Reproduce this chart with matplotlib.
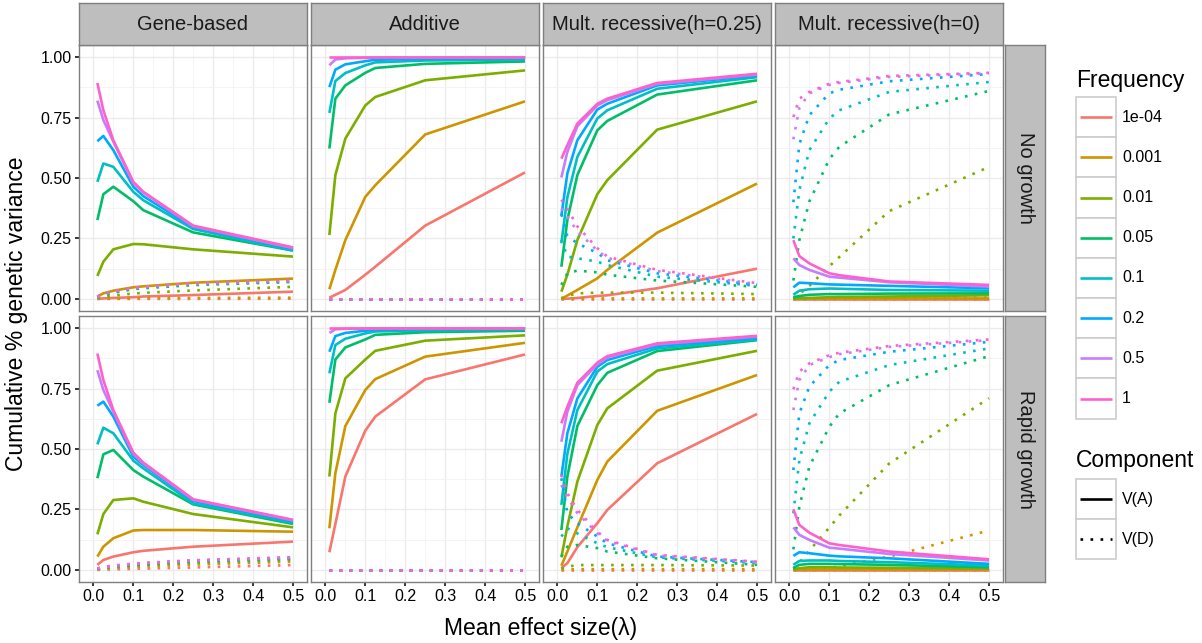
import matplotlib
matplotlib.use('Agg')
import matplotlib.pyplot as plt
from matplotlib.patches import Rectangle

plt.rcParams['font.family'] = ['Liberation Sans', 'DejaVu Sans']

# ---------------- data ----------------
X = [0.01, 0.025, 0.05, 0.1, 0.125, 0.25, 0.5]
FREQ_LABELS = ['1e-04', '0.001', '0.01', '0.05', '0.1', '0.2', '0.5', '1']
COLORS = ['#F8766D', '#CD9600', '#7CAE00', '#00BE67', '#00BFC4', '#00A9FF', '#C77CFF', '#FF61CC']
MODELS = ['Gene-based', 'Additive', 'Mult. recessive(h=0.25)', 'Mult. recessive(h=0)']
GROWTH = ['No growth', 'Rapid growth']
COMPONENTS = ['V(A)', 'V(D)']

# rows: frequencies 1e-04 ... 1 ; columns: X
GENE_NO_VA = [
    [0.0, 0.002, 0.004, 0.007, 0.010, 0.016, 0.030],
    [0.010, 0.023, 0.034, 0.048, 0.052, 0.067, 0.084],
    [0.095, 0.154, 0.205, 0.227, 0.226, 0.205, 0.175],
    [0.326, 0.433, 0.464, 0.404, 0.367, 0.275, 0.200],
    [0.484, 0.560, 0.546, 0.443, 0.408, 0.289, 0.200],
    [0.652, 0.674, 0.615, 0.464, 0.425, 0.296, 0.206],
    [0.820, 0.740, 0.650, 0.480, 0.440, 0.300, 0.210],
    [0.893, 0.780, 0.656, 0.484, 0.443, 0.303, 0.213],
]
GENE_NO_VD = [
    [0.0, 0.0, 0.0, 0.0, 0.0, 0.0, 0.001],
    [0.001, 0.002, 0.002, 0.003, 0.003, 0.004, 0.005],
    [0.003, 0.008, 0.014, 0.022, 0.025, 0.035, 0.050],
    [0.006, 0.016, 0.026, 0.040, 0.044, 0.057, 0.070],
    [0.007, 0.018, 0.028, 0.042, 0.047, 0.060, 0.072],
    [0.008, 0.019, 0.030, 0.044, 0.049, 0.062, 0.074],
    [0.008, 0.020, 0.031, 0.045, 0.050, 0.063, 0.075],
    [0.009, 0.020, 0.032, 0.046, 0.051, 0.064, 0.076],
]
ADD_NO_VA = [
    [0.005, 0.017, 0.037, 0.100, 0.133, 0.303, 0.523],
    [0.040, 0.120, 0.243, 0.422, 0.470, 0.680, 0.817],
    [0.264, 0.512, 0.663, 0.800, 0.835, 0.904, 0.945],
    [0.622, 0.828, 0.883, 0.935, 0.955, 0.972, 0.982],
    [0.769, 0.901, 0.934, 0.966, 0.978, 0.986, 0.989],
    [0.876, 0.948, 0.970, 0.983, 0.989, 0.993, 0.996],
    [0.966, 0.990, 0.995, 0.997, 0.998, 0.998, 0.999],
    [1.0, 1.0, 1.0, 1.0, 1.0, 1.0, 1.0],
]
ADD_NO_VD = [[0.0] * 7 for _ in range(8)]
H25_NO_VA = [
    [0.0, 0.001, 0.004, 0.012, 0.015, 0.044, 0.125],
    [0.0, 0.014, 0.037, 0.085, 0.120, 0.274, 0.477],
    [0.030, 0.100, 0.243, 0.433, 0.491, 0.700, 0.817],
    [0.133, 0.326, 0.512, 0.697, 0.736, 0.845, 0.904],
    [0.230, 0.420, 0.587, 0.746, 0.780, 0.869, 0.917],
    [0.344, 0.519, 0.656, 0.783, 0.807, 0.883, 0.924],
    [0.502, 0.608, 0.714, 0.800, 0.822, 0.889, 0.928],
    [0.580, 0.636, 0.725, 0.807, 0.828, 0.893, 0.931],
]
H25_NO_VD = [
    [0.0, 0.0, 0.0, 0.0, 0.0, 0.0, 0.0],
    [0.001, 0.002, 0.002, 0.002, 0.002, 0.002, 0.002],
    [0.003, 0.012, 0.023, 0.026, 0.026, 0.026, 0.020],
    [0.058, 0.106, 0.117, 0.110, 0.100, 0.076, 0.050],
    [0.245, 0.175, 0.168, 0.154, 0.140, 0.092, 0.054],
    [0.350, 0.260, 0.230, 0.190, 0.160, 0.106, 0.058],
    [0.374, 0.340, 0.280, 0.200, 0.170, 0.115, 0.062],
    [0.410, 0.374, 0.300, 0.210, 0.175, 0.120, 0.065],
]
H0_NO_VA = [
    [0.0, 0.0, 0.0, 0.0, 0.0, 0.0, 0.0],
    [0.001, 0.001, 0.002, 0.002, 0.002, 0.002, 0.002],
    [0.0, 0.003, 0.004, 0.007, 0.008, 0.010, 0.015],
    [0.007, 0.012, 0.017, 0.020, 0.020, 0.022, 0.023],
    [0.017, 0.034, 0.040, 0.043, 0.042, 0.037, 0.034],
    [0.048, 0.067, 0.065, 0.060, 0.059, 0.054, 0.044],
    [0.168, 0.140, 0.120, 0.092, 0.088, 0.069, 0.051],
    [0.243, 0.177, 0.147, 0.106, 0.098, 0.072, 0.058],
]
H0_NO_VD = [
    [0.0, 0.0, 0.0, 0.0, 0.0, 0.0, 0.0],
    [0.0, 0.0, 0.001, 0.002, 0.002, 0.003, 0.005],
    [0.003, 0.020, 0.054, 0.135, 0.173, 0.363, 0.546],
    [0.076, 0.243, 0.403, 0.578, 0.629, 0.763, 0.860],
    [0.250, 0.450, 0.615, 0.746, 0.780, 0.856, 0.897],
    [0.400, 0.640, 0.760, 0.850, 0.865, 0.900, 0.930],
    [0.660, 0.790, 0.850, 0.885, 0.893, 0.918, 0.933],
    [0.752, 0.828, 0.856, 0.890, 0.897, 0.922, 0.935],
]
GENE_RAPID_VA = [
    [0.021, 0.041, 0.055, 0.073, 0.079, 0.096, 0.117],
    [0.055, 0.096, 0.131, 0.163, 0.165, 0.165, 0.158],
    [0.147, 0.231, 0.289, 0.296, 0.282, 0.231, 0.176],
    [0.379, 0.478, 0.496, 0.413, 0.386, 0.271, 0.190],
    [0.519, 0.588, 0.565, 0.452, 0.420, 0.275, 0.196],
    [0.679, 0.696, 0.634, 0.468, 0.434, 0.285, 0.200],
    [0.826, 0.744, 0.654, 0.480, 0.440, 0.290, 0.205],
    [0.895, 0.785, 0.661, 0.485, 0.444, 0.292, 0.207],
]
GENE_RAPID_VD = [
    [0.0, 0.001, 0.002, 0.004, 0.005, 0.010, 0.020],
    [0.002, 0.005, 0.008, 0.012, 0.014, 0.022, 0.034],
    [0.003, 0.007, 0.011, 0.017, 0.020, 0.030, 0.042],
    [0.004, 0.009, 0.014, 0.021, 0.024, 0.035, 0.046],
    [0.005, 0.010, 0.015, 0.023, 0.026, 0.037, 0.048],
    [0.005, 0.011, 0.016, 0.024, 0.027, 0.038, 0.050],
    [0.006, 0.011, 0.017, 0.025, 0.028, 0.039, 0.051],
    [0.006, 0.012, 0.018, 0.026, 0.029, 0.040, 0.053],
]
ADD_RAPID_VA = [
    [0.073, 0.190, 0.386, 0.576, 0.634, 0.788, 0.891],
    [0.172, 0.400, 0.595, 0.744, 0.789, 0.882, 0.939],
    [0.386, 0.647, 0.792, 0.870, 0.906, 0.948, 0.970],
    [0.691, 0.870, 0.920, 0.953, 0.972, 0.983, 0.989],
    [0.813, 0.930, 0.956, 0.978, 0.986, 0.990, 0.994],
    [0.902, 0.967, 0.980, 0.989, 0.993, 0.996, 0.997],
    [0.980, 0.995, 0.997, 0.998, 0.999, 0.999, 0.999],
    [1.0, 1.0, 1.0, 1.0, 1.0, 1.0, 1.0],
]
ADD_RAPID_VD = [[0.0] * 7 for _ in range(8)]
H25_RAPID_VA = [
    [0.007, 0.028, 0.094, 0.193, 0.248, 0.441, 0.645],
    [0.017, 0.076, 0.176, 0.372, 0.448, 0.658, 0.806],
    [0.052, 0.180, 0.365, 0.599, 0.668, 0.824, 0.906],
    [0.165, 0.386, 0.595, 0.764, 0.815, 0.905, 0.950],
    [0.269, 0.480, 0.661, 0.820, 0.851, 0.916, 0.953],
    [0.386, 0.565, 0.709, 0.840, 0.868, 0.926, 0.959],
    [0.530, 0.654, 0.764, 0.850, 0.878, 0.933, 0.965],
    [0.606, 0.675, 0.774, 0.857, 0.884, 0.937, 0.968],
]
H25_RAPID_VD = [
    [0.0, 0.0, 0.0, 0.0, 0.0, 0.0, 0.0],
    [0.001, 0.002, 0.003, 0.003, 0.003, 0.003, 0.003],
    [0.005, 0.014, 0.020, 0.020, 0.020, 0.020, 0.018],
    [0.055, 0.096, 0.103, 0.090, 0.076, 0.048, 0.021],
    [0.138, 0.172, 0.151, 0.110, 0.094, 0.052, 0.028],
    [0.379, 0.234, 0.193, 0.138, 0.110, 0.055, 0.032],
    [0.351, 0.300, 0.235, 0.152, 0.120, 0.060, 0.033],
    [0.393, 0.317, 0.248, 0.158, 0.124, 0.062, 0.034],
]
H0_RAPID_VA = [
    [0.0, 0.0, 0.0, 0.0, 0.0, 0.0, 0.0],
    [0.001, 0.001, 0.002, 0.002, 0.002, 0.002, 0.002],
    [0.001, 0.007, 0.011, 0.011, 0.010, 0.009, 0.006],
    [0.008, 0.021, 0.025, 0.025, 0.024, 0.021, 0.011],
    [0.021, 0.037, 0.039, 0.039, 0.037, 0.032, 0.018],
    [0.058, 0.073, 0.069, 0.059, 0.056, 0.048, 0.025],
    [0.176, 0.145, 0.124, 0.092, 0.088, 0.066, 0.039],
    [0.251, 0.186, 0.154, 0.110, 0.103, 0.076, 0.044],
]
H0_RAPID_VD = [
    [0.0, 0.0, 0.0, 0.0, 0.0, 0.0, 0.0],
    [0.0, 0.001, 0.003, 0.008, 0.015, 0.055, 0.163],
    [0.005, 0.030, 0.080, 0.175, 0.225, 0.440, 0.710],
    [0.085, 0.262, 0.427, 0.592, 0.647, 0.764, 0.884],
    [0.234, 0.455, 0.606, 0.737, 0.778, 0.847, 0.916],
    [0.413, 0.647, 0.758, 0.847, 0.868, 0.902, 0.943],
    [0.661, 0.785, 0.847, 0.880, 0.892, 0.922, 0.950],
    [0.747, 0.820, 0.854, 0.888, 0.898, 0.926, 0.953],
]

PANELS = {
    (0, 0): (GENE_NO_VA, GENE_NO_VD),
    (0, 1): (ADD_NO_VA, ADD_NO_VD),
    (0, 2): (H25_NO_VA, H25_NO_VD),
    (0, 3): (H0_NO_VA, H0_NO_VD),
    (1, 0): (GENE_RAPID_VA, GENE_RAPID_VD),
    (1, 1): (ADD_RAPID_VA, ADD_RAPID_VD),
    (1, 2): (H25_RAPID_VA, H25_RAPID_VD),
    (1, 3): (H0_RAPID_VA, H0_RAPID_VD),
}

# ---------------- layout ----------------
W, H = 1202, 643
fig = plt.figure(figsize=(W / 100, H / 100), dpi=100)


def fr(x0, y0, w, h):
    return [x0 / W, 1 - (y0 + h) / H, w / W, h / H]


PANEL_LEFT = [79, 311, 543, 775]
PANEL_TOP = [45, 316]
PW, PH = 228, 266
STRIP_FILL = '#BEBEBE'
BORDER = '#7F7F7F'
LW = 1.9
DOT = (0, (1, 2.8))

for (r, c), (va, vd) in PANELS.items():
    ax = fig.add_axes(fr(PANEL_LEFT[c], PANEL_TOP[r], PW, PH))
    ax.set_xlim(-0.036, 0.535)
    ax.set_ylim(-0.05, 1.05)
    ax.set_xticks([0.0, 0.1, 0.2, 0.3, 0.4, 0.5])
    ax.set_xticks([0.05, 0.15, 0.25, 0.35, 0.45], minor=True)
    ax.set_yticks([0.0, 0.25, 0.5, 0.75, 1.0])
    ax.set_yticks([0.125, 0.375, 0.625, 0.875], minor=True)
    ax.grid(which='major', color='#EBEBEB', lw=1.0, zorder=0)
    ax.grid(which='minor', color='#F2F2F2', lw=0.6, zorder=0)
    ax.set_axisbelow(True)
    for s in ax.spines.values():
        s.set_color(BORDER)
        s.set_linewidth(1.0)
    ax.tick_params(which='minor', length=0)
    ax.tick_params(which='major', length=3.2, width=1.1, color='black',
                   labelsize=11.5, labelcolor='black', pad=2)
    if c == 0:
        ax.set_yticklabels(['0.00', '0.25', '0.50', '0.75', '1.00'])
    else:
        ax.tick_params(axis='y', length=0, labelleft=False)
    if r == 1:
        ax.set_xticklabels(['0.0', '0.1', '0.2', '0.3', '0.4', '0.5'])
    else:
        ax.tick_params(axis='x', length=0, labelbottom=False)
    for i in range(len(FREQ_LABELS)):
        ax.plot(X, va[i], color=COLORS[i], lw=LW, solid_capstyle='butt',
                solid_joinstyle='round', zorder=3)
        ax.plot(X, vd[i], color=COLORS[i], lw=LW, linestyle=DOT,
                dash_capstyle='butt', zorder=3)

# top strips
for c, name in enumerate(MODELS):
    sa = fig.add_axes(fr(PANEL_LEFT[c], 3, PW, 42))
    sa.set_facecolor(STRIP_FILL)
    sa.set_xticks([]); sa.set_yticks([])
    for s in sa.spines.values():
        s.set_color(BORDER); s.set_linewidth(1.0)
    sa.text(0.5, 0.5, name, ha='center', va='center', fontsize=14.5,
            color='#1A1A1A', transform=sa.transAxes)

# right strips
for r, name in enumerate(GROWTH):
    sa = fig.add_axes(fr(1005, PANEL_TOP[r], 40, PH))
    sa.set_facecolor(STRIP_FILL)
    sa.set_xticks([]); sa.set_yticks([])
    for s in sa.spines.values():
        s.set_color(BORDER); s.set_linewidth(1.0)
    sa.text(0.5, 0.5, name, ha='center', va='center', fontsize=14.5,
            rotation=-90, color='#1A1A1A', transform=sa.transAxes)

# axis titles
fig.text(17 / W, 1 - 313.5 / H, 'Cumulative % genetic variance', rotation=90,
         ha='center', va='center', fontsize=16.5)
fig.text(541 / W, 1 - 628 / H, 'Mean effect size(λ)', ha='center', va='center',
         fontsize=16.5)

# legend (drawn in pixel coordinates)
lax = fig.add_axes([0, 0, 1, 1])
lax.set_xlim(0, W)
lax.set_ylim(H, 0)
lax.axis('off')
KX, KW, KH = 1076, 40, 40.2
lax.text(KX, 80, 'Frequency', ha='left', va='center', fontsize=16.5)
top = 97
for i, lab in enumerate(FREQ_LABELS):
    y0 = top + i * KH
    lax.add_patch(Rectangle((KX, y0), KW, KH, facecolor='white',
                            edgecolor='#CCCCCC', lw=1.2))
    lax.plot([KX + 4, KX + KW - 4], [y0 + KH / 2] * 2, color=COLORS[i], lw=LW,
             solid_capstyle='butt')
    lax.text(KX + KW + 6, y0 + KH / 2, lab, ha='left', va='center', fontsize=11.5)

lax.text(KX, 461, 'Component', ha='left', va='center', fontsize=16.5)
top2 = 479
for j, lab in enumerate(COMPONENTS):
    y0 = top2 + j * KH
    lax.add_patch(Rectangle((KX, y0), KW, KH, facecolor='white',
                            edgecolor='#CCCCCC', lw=1.2))
    lax.plot([KX + 4, KX + KW - 4], [y0 + KH / 2] * 2, color='black', lw=LW,
             linestyle='-' if j == 0 else DOT, solid_capstyle='butt',
             dash_capstyle='butt')
    lax.text(KX + KW + 6, y0 + KH / 2, lab, ha='left', va='center', fontsize=11.5)

fig.savefig('out.png', dpi=100)
